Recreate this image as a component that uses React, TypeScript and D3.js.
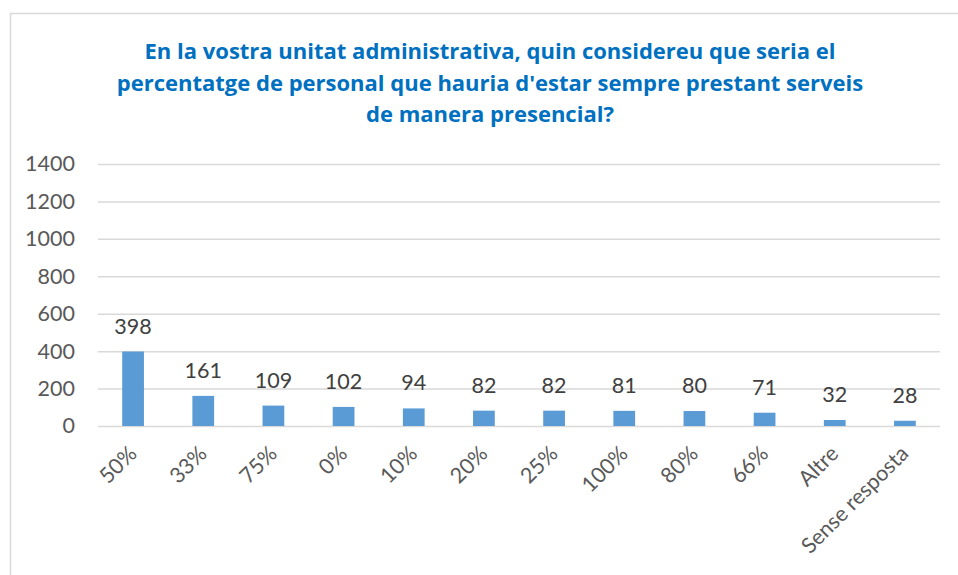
import React, { useEffect, useRef } from 'react';
import * as d3 from 'd3';

const categories = ['50%', '33%', '75%', '0%', '10%', '20%', '25%', '100%', '80%', '66%', 'Altre', 'Sense resposta'];
const counts = [398, 161, 109, 102, 94, 82, 82, 81, 80, 71, 32, 28];
const yTicks = [0, 200, 400, 600, 800, 1000, 1200, 1400];
const titleLines = [
  'En la vostra unitat administrativa, quin considereu que seria el',
  "percentatge de personal que hauria d'estar sempre prestant serveis",
  'de manera presencial?'
];

const width = 958;
const height = 575;
const font = 'Lato, "Open Sans", sans-serif';
const titleFont = '"Open Sans", Lato, sans-serif';

const App = () => {
  const ref = useRef<SVGSVGElement>(null);

  useEffect(() => {
    const svg = d3.select(ref.current);
    svg.selectAll('*').remove();

    const margin = { top: 164, right: 18, bottom: 149, left: 98 };

    // chart frame, right and bottom edges run off the picture
    svg
      .append('rect')
      .attr('x', 10.5)
      .attr('y', 13.5)
      .attr('width', 1000)
      .attr('height', 1000)
      .attr('fill', 'white')
      .attr('stroke', '#d9d9d9')
      .attr('stroke-width', 1.5);

    svg
      .append('g')
      .selectAll('text')
      .data(titleLines)
      .enter()
      .append('text')
      .attr('x', 490)
      .attr('y', (d, i) => 59 + i * 31.5)
      .attr('text-anchor', 'middle')
      .attr('fill', '#0070c0')
      .attr('font-family', titleFont)
      .attr('font-weight', 'bold')
      .attr('font-size', 22)
      .text((d) => d);

    const x = d3
      .scaleBand<string>()
      .domain(categories)
      .range([margin.left, width - margin.right])
      .paddingInner(0.69)
      .paddingOuter(0.345);

    const y = d3
      .scaleLinear()
      .domain([0, 1400])
      .range([height - margin.bottom, margin.top]);

    const yAxis = (g: any) =>
      g
        .attr('transform', `translate(${margin.left},0)`)
        .call(
          d3
            .axisLeft(y)
            .tickValues(yTicks)
            .tickFormat(d3.format('d'))
            .tickSize(-(width - margin.right - margin.left))
            .tickPadding(23)
        )
        .call((g: any) => g.select('.domain').remove())
        .call((g: any) =>
          g.selectAll('.tick line').attr('stroke', '#d9d9d9').attr('stroke-width', 1.5)
        )
        .call((g: any) =>
          g
            .selectAll('.tick text')
            .attr('fill', '#595959')
            .attr('font-family', font)
            .attr('font-size', 21.5)
        );

    svg.append('g').call(yAxis);

    const xAxis = (g: any) =>
      g
        .attr('transform', `translate(0,${height - margin.bottom})`)
        .call(d3.axisBottom(x).tickSize(0).tickPadding(0))
        .call((g: any) => g.select('.domain').remove())
        .call((g: any) =>
          g
            .selectAll('.tick text')
            .attr('fill', '#595959')
            .attr('font-family', font)
            .attr('font-size', 21.5)
            .attr('text-anchor', 'end')
            .attr('dy', 0)
            .attr('transform', 'translate(5,29) rotate(-45)')
        );

    svg.append('g').call(xAxis);

    svg
      .append('g')
      .attr('fill', '#5b9bd5')
      .selectAll('rect')
      .data(counts)
      .enter()
      .append('rect')
      .attr('x', (d, i) => x(categories[i]) as number)
      .attr('y', (d) => y(d))
      .attr('width', x.bandwidth())
      .attr('height', (d) => y(0) - y(d));

    svg
      .append('g')
      .selectAll('text')
      .data(counts)
      .enter()
      .append('text')
      .attr('x', (d, i) => (x(categories[i]) as number) + x.bandwidth() / 2)
      .attr('y', (d) => y(d) - 18)
      .attr('text-anchor', 'middle')
      .attr('fill', '#404040')
      .attr('font-family', font)
      .attr('font-size', 21.5)
      .text((d) => d);
  }, []);

  return (
    <svg
      ref={ref}
      width={width}
      height={height}
      style={{ position: 'absolute', left: 0, top: 0, display: 'block', background: 'white' }}
    />
  );
};

export default App;
